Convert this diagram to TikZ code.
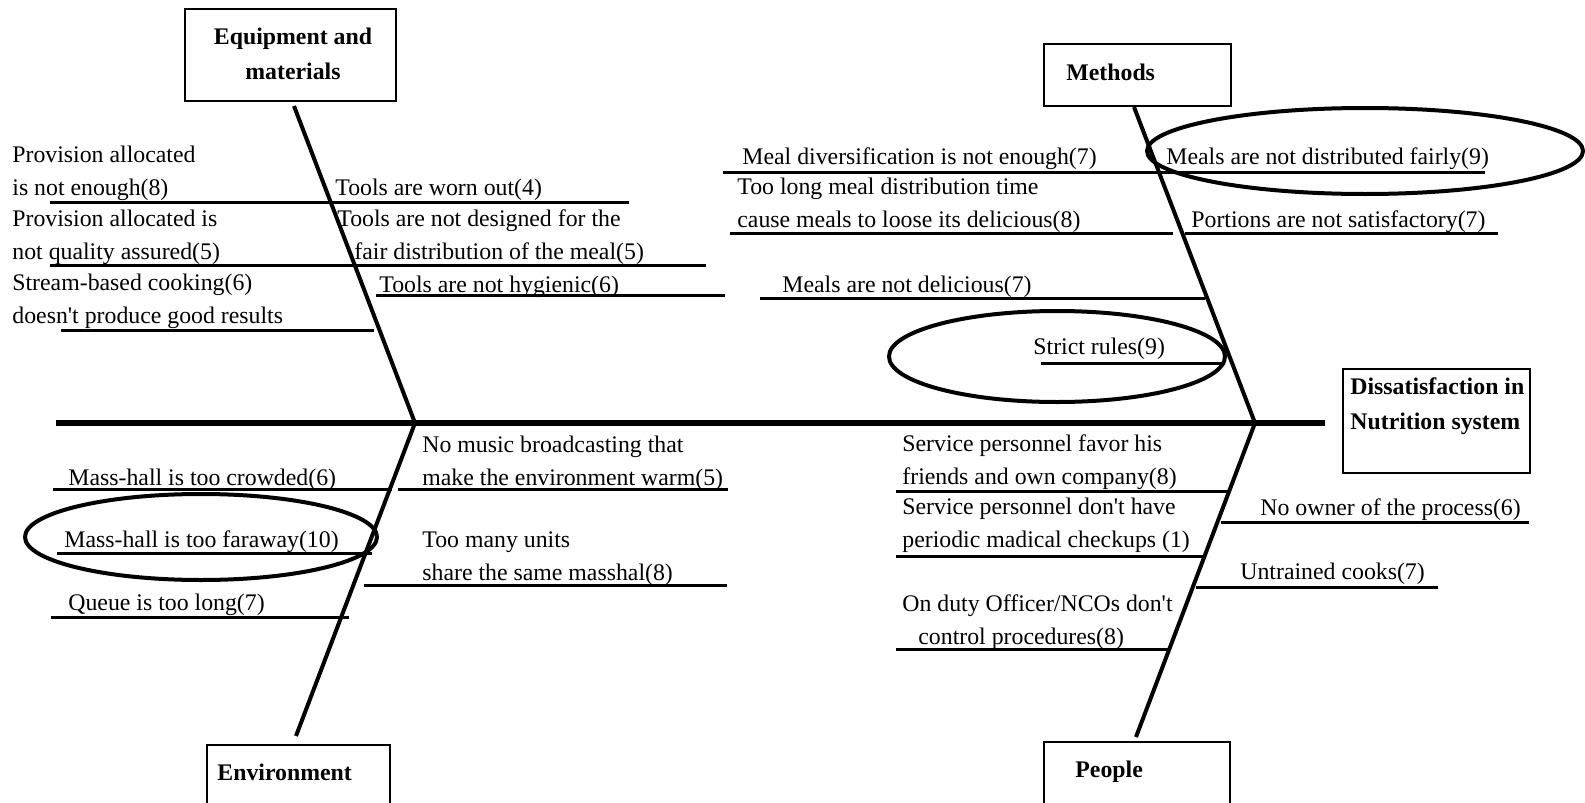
\documentclass[tikz,border=0pt]{standalone}
\usepackage{fontspec}
\setmainfont{Liberation Serif}
\tikzset{box/.style={draw, line width=0.8pt, inner sep=0pt},
    boxlabel/.style={font=\bfseries\fontsize{11.9}{17.25}\selectfont,
        inner sep=0pt, anchor=base west, align=left},
    cause/.style={font=\fontsize{11.9}{16.5}\selectfont,
        inner sep=0pt, anchor=base west, align=left},
    spine/.style={line width=3pt},
    bone/.style={line width=2pt},
    twig/.style={line width=1.5pt},
    ring/.style={line width=2pt}}

\begin{document}
\begin{tikzpicture}[x=0.5pt,y=-0.5pt]
    \useasboundingbox (0,0) rectangle (1585,803);
    \clip (0,0) rectangle (1585,803);

    \node[box, minimum width=105.5pt, minimum height=46pt] (equip) at (290.5,55) {};
    \node[box, minimum width=93.5pt, minimum height=31pt] (methods) at (1137.5,75) {};
    \node[box, minimum width=91.5pt, minimum height=50pt] (env) at (298.5,795) {};
    \node[box, minimum width=93pt, minimum height=50pt] (people) at (1137,792) {};
    \node[box, minimum width=93.5pt, minimum height=52pt] (effect) at (1436.5,421) {};

    \node[boxlabel, anchor=base, align=center] (equiplbl) at (293,79) {Equipment and\\materials};
    \node[boxlabel] (methodslbl) at (1066,80) {Methods};
    \node[boxlabel] (envlbl) at (217,780) {Environment};
    \node[boxlabel] (peoplelbl) at (1075,777) {People};
    \node[boxlabel] (effectlbl) at (1350,429) {Dissatisfaction in\\Nutrition system};

    \coordinate (tail) at (56,423);
    \coordinate (head) at (1325,423);
    \coordinate (jleft) at (415,423);
    \coordinate (jright) at (1255,423);
    \coordinate (equipend) at (294,106);
    \coordinate (envend) at (296,736);
    \coordinate (methodsend) at (1134,107);
    \coordinate (peopleend) at (1136,737);
    \draw[spine] (tail) -- (head);
    \draw[bone] (equipend) -- (jleft) -- (envend);
    \draw[bone] (methodsend) -- (jright) -- (peopleend);

    \node[cause] (provenough) at (12,195) {Provision allocated\\is not enough(8)};
    \node[cause] (provquality) at (12,259) {Provision allocated is\\not quality assured(5)};
    \node[cause] (steam) at (12,323) {Stream-based cooking(6)\\doesn\textquotesingle t produce good results};
    \node[cause] (toolsworn) at (335,195) {Tools are worn out(4)};
    \node[cause] (toolsdesign) at (337,259) {Tools are not designed for the\\\hspace*{8.5pt}fair distribution of the meal(5)};
    \node[cause] (toolshyg) at (379,292) {Tools are not hygienic(6)};
    \draw[twig] (50,202) -- (629,202);
    \draw[twig] (50,265) -- (706,265);
    \draw[twig] (376,295) -- (725,295);
    \draw[twig] (61,330) -- (374,330);

    \node[cause] (mealdiv) at (742,164) {Meal diversification is not enough(7)};
    \node[cause] (mealtime) at (737,227) {Too long meal distribution time\\cause meals to loose its delicious(8)};
    \node[cause] (mealtaste) at (782,292) {Meals are not delicious(7)};
    \node[cause] (rules) at (1033,354) {Strict rules(9)};
    \node[cause] (mealfair) at (1166,164) {Meals are not distributed fairly(9)};
    \node[cause] (portions) at (1191,227) {Portions are not satisfactory(7)};
    \draw[twig] (723,172) -- (1485,172);
    \draw[twig] (730,233) -- (1173,233);
    \draw[twig] (1185,233) -- (1498,233);
    \draw[twig] (760,298) -- (1205,298);
    \draw[twig] (1041,363) -- (1225,363);
    \draw[ring] (1365,151) ellipse [x radius=109pt, y radius=21.5pt];
    \draw[ring] (1057,356.5) ellipse [x radius=84pt, y radius=22.75pt];

    \node[cause] (crowded) at (68,485) {Mass-hall is too crowded(6)};
    \node[cause] (faraway) at (64,547) {Mass-hall is too faraway(10)};
    \node[cause] (queue) at (68,610) {Queue is too long(7)};
    \node[cause] (music) at (422,485) {No music broadcasting that\\make the environment warm(5)};
    \node[cause] (units) at (422,580) {Too many units\\share the same masshal(8)};
    \draw[twig] (53,489) -- (392,489);
    \draw[twig] (398,489) -- (728,489);
    \draw[twig] (57,553) -- (372,553);
    \draw[twig] (364,585) -- (727,585);
    \draw[twig] (51,617) -- (349,617);
    \draw[ring] (201,537) ellipse [x radius=88pt, y radius=21.5pt];

    \node[cause] (favor) at (902,484) {Service personnel favor his\\friends and own company(8)};
    \node[cause] (checkups) at (902,547) {Service personnel don\textquotesingle t have\\periodic madical checkups (1)};
    \node[cause] (officers) at (902,644) {On duty Officer/NCOs don\textquotesingle t\\\hspace*{8pt}control procedures(8)};
    \node[cause] (owner) at (1260,515) {No owner of the process(6)};
    \node[cause] (cooks) at (1240,579) {Untrained cooks(7)};
    \draw[twig] (896,491) -- (1230,491);
    \draw[twig] (896,556) -- (1206,556);
    \draw[twig] (1221,522) -- (1529,522);
    \draw[twig] (1196,587) -- (1438,587);
    \draw[twig] (896,649) -- (1168,649);
\end{tikzpicture}
\end{document}
